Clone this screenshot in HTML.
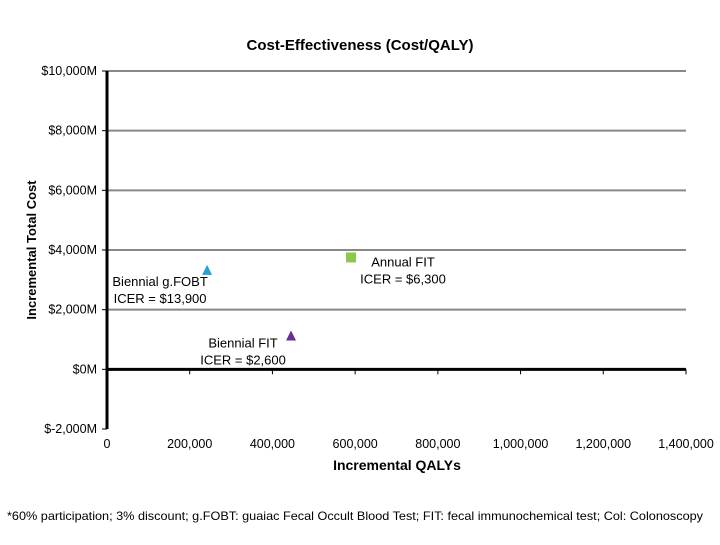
<!DOCTYPE html>
<html><head><meta charset="utf-8"><style>
body{margin:0;background:#fff;}
text{font-family:"Liberation Sans",sans-serif;fill:#000;}
</style></head><body>
<svg id="c" width="720" height="540" xmlns="http://www.w3.org/2000/svg">
<text x="360" y="50" font-size="15" font-weight="bold" text-anchor="middle">Cost-Effectiveness (Cost/QALY)</text>
<text transform="translate(36,250) rotate(-90)" font-size="13" font-weight="bold" text-anchor="middle">Incremental Total Cost</text>
<text x="397" y="470" font-size="14" font-weight="bold" text-anchor="middle">Incremental QALYs</text>
<text x="7" y="520" font-size="12" textLength="696" lengthAdjust="spacingAndGlyphs">*60% participation; 3% discount;  g.FOBT: guaiac Fecal Occult Blood Test; FIT: fecal immunochemical test; Col: Colonoscopy</text>
<g id="plot"></g>
</svg>
<script>
const xTicks=[0,200000,400000,600000,800000,1000000,1200000,1400000];
const xTickLabels=["0","200,000","400,000","600,000","800,000","1,000,000","1,200,000","1,400,000"];
const yTicks=[-2000,0,2000,4000,6000,8000,10000];
const yTickLabels=["$-2,000M","$0M","$2,000M","$4,000M","$6,000M","$8,000M","$10,000M"];
const pointNames=["Biennial g.FOBT","Annual FIT","Biennial FIT"];
const qalys=[242000,590000,445000];
const costs=[3300,3750,1100];
const labels1=["Biennial g.FOBT","Annual FIT","Biennial FIT"];
const labels2=["ICER = $13,900","ICER = $6,300","ICER = $2,600"];
const X0=107,X1=686,Y0=429,Y1=71;
const xs=v=>X0+(v-0)/1400000*(X1-X0);
const ys=v=>Y0-(v+2000)/12000*(Y0-Y1);
const ns="http://www.w3.org/2000/svg";
const g=document.getElementById('plot');
function mk(t,a,txt){const e=document.createElementNS(ns,t);for(const k in a)e.setAttribute(k,a[k]);if(txt!==undefined)e.textContent=txt;g.appendChild(e);return e;}
yTicks.forEach((v,i)=>{
  if(v!==0&&v!==-2000){const l=mk('line',{x1:X0,x2:X1,y1:ys(v),y2:ys(v),stroke:'#888','stroke-width':2});
  
  }
  const t=mk('text',{x:97,y:ys(v)+4,'font-size':12.5,'text-anchor':'end'},yTickLabels[i]);
  
  
  const tk=mk('line',{x1:X0-5,x2:X0,y1:ys(v),y2:ys(v),stroke:'#000','stroke-width':1});
  
  
});
xTicks.forEach((v,i)=>{
  const t=mk('text',{x:xs(v),y:448,'font-size':12.5,'text-anchor':'middle'},xTickLabels[i]);
  
  
  const tk=mk('line',{x1:xs(v),x2:xs(v),y1:ys(0),y2:ys(0)+5,stroke:'#000'});
  
  
});
const ya=mk('line',{x1:X0,x2:X0,y1:Y1,y2:Y0,stroke:'#000','stroke-width':3});


const xa=mk('line',{x1:X0,x2:X1,y1:ys(0),y2:ys(0),stroke:'#000','stroke-width':3});


const colors=['#2aa0d8','#8cc84b','#6a2d91'];
qalys.forEach((q,i)=>{
  const px=xs(q),py=ys(costs[i]);
  let m;
  if(i===1){m=mk('rect',{x:px-5,y:py-5,width:10,height:10,fill:colors[i]});}
  else{m=mk('polygon',{points:`${px},${py-6} ${px-5},${py+4} ${px+5},${py+4}`,fill:colors[i]});}
  
  
  let lx,ly;
  if(i===0){lx=px-47;ly=py+15;}else if(i===1){lx=px+52;ly=py+9;}else{lx=px-48;ly=py+11;}
  const t1=mk('text',{x:lx,y:ly,'font-size':13,'text-anchor':'middle'},labels1[i]);
  
  
  const t2=mk('text',{x:lx,y:ly+17,'font-size':13,'text-anchor':'middle'},labels2[i]);
  
  
});
</script>
</body></html>
